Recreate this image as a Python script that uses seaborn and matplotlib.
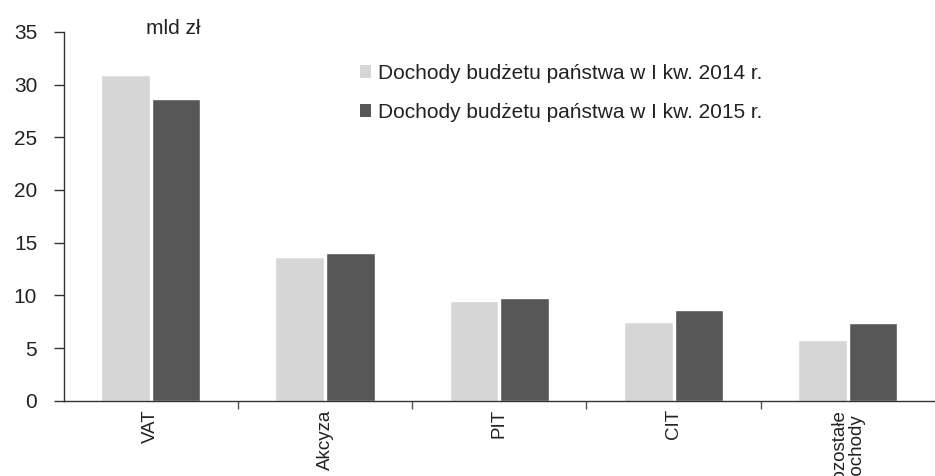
import pandas as pd
import matplotlib
matplotlib.use("Agg")
import matplotlib.pyplot as plt
import seaborn as sns
from matplotlib.patches import Patch

# Dane (mld zł)
kategorie = ["VAT", "Akcyza", "PIT", "CIT", "Pozostałe\ndochody"]
dochody_2014 = [30.9, 13.6, 9.5, 7.5, 5.8]
dochody_2015 = [28.6, 14.0, 9.8, 8.6, 7.4]
serie = ["Dochody budżetu państwa w I kw. 2014 r.",
         "Dochody budżetu państwa w I kw. 2015 r."]
kolory = ["#d6d6d6", "#575757"]
y_ticks = [0, 5, 10, 15, 20, 25, 30, 35]

df = pd.DataFrame({
    "Kategoria": kategorie * 2,
    "Wartosc": dochody_2014 + dochody_2015,
    "Seria": [serie[0]] * len(kategorie) + [serie[1]] * len(kategorie),
})

sns.set_theme(style="white")
plt.rcParams["font.family"] = ["Liberation Sans", "DejaVu Sans"]

fig = plt.figure(figsize=(9.35, 4.76), dpi=100)
ax = fig.add_axes([0.068, 0.158, 0.932, 0.775])

sns.barplot(
    data=df, x="Kategoria", y="Wartosc", hue="Seria",
    palette=kolory, width=0.58, gap=0.04, saturation=1,
    ax=ax, legend=False,
)

ax.set_ylim(0, 35)
ax.set_xlim(-0.5, 4.5)
ax.set_yticks(y_ticks)
ax.set_xlabel("")
ax.set_ylabel("")

# Osie w stylu Excela
for s in ["top", "right"]:
    ax.spines[s].set_visible(False)
for s in ["left", "bottom"]:
    ax.spines[s].set_color("#333333")
    ax.spines[s].set_linewidth(1.0)

ax.tick_params(axis="y", which="major", left=True, length=7, width=1,
               color="#333333", pad=12, labelsize=15, labelcolor="#222222")
ax.tick_params(axis="x", which="major", length=0, pad=6, labelsize=13.5,
               labelcolor="#222222", labelrotation=90)
ax.set_xticks([0.5, 1.5, 2.5, 3.5], minor=True)
ax.tick_params(axis="x", which="minor", bottom=True, length=6, width=1,
               color="#555555")
for lbl in ax.get_xticklabels():
    lbl.set_linespacing(1.0)

# Legenda
uchwyty = [Patch(facecolor=k, edgecolor="none") for k in kolory]
fig.legend(uchwyty, serie, loc="upper left",
           bbox_to_anchor=(360 / 935, 1 - 64 / 476),
           frameon=False, fontsize=15, handlelength=0.55, handleheight=0.55,
           handletextpad=0.3, labelspacing=0.95, borderpad=0, borderaxespad=0,
           labelcolor="#222222")

fig.text(146 / 935, 1 - 28 / 476, "mld zł", fontsize=15, va="center",
         ha="left", color="#222222")

fig.savefig("out.png", dpi=100)
